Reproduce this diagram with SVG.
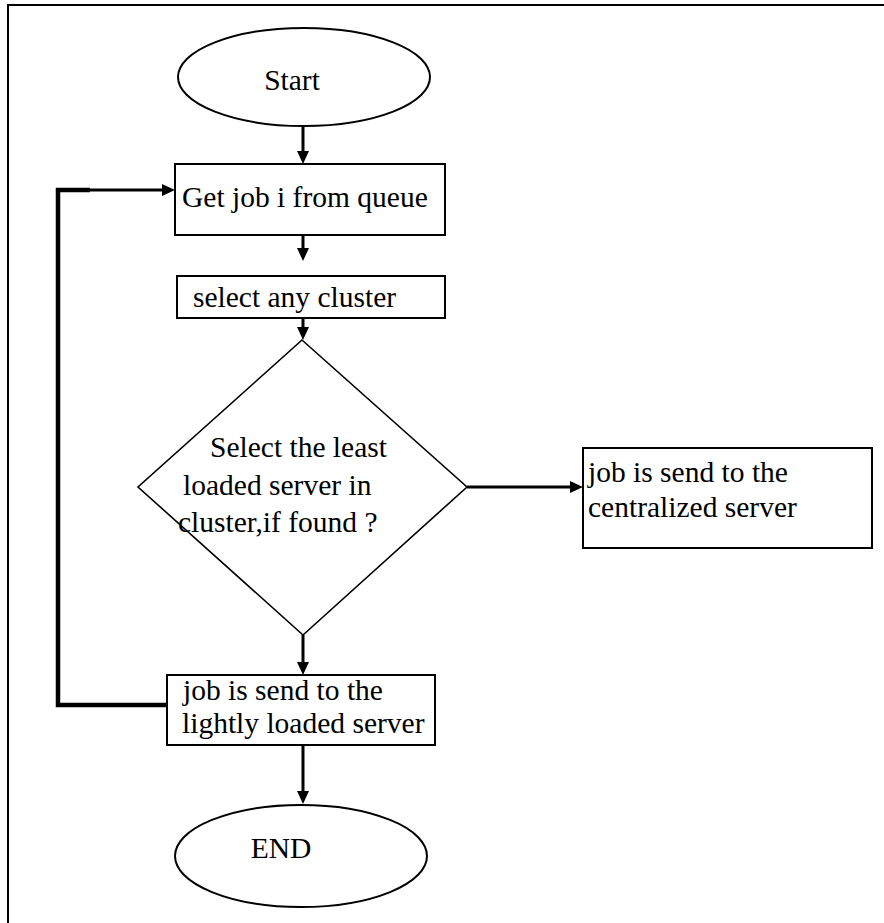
<svg xmlns="http://www.w3.org/2000/svg" width="884" height="923" viewBox="0 0 884 923">
  <style>
    .shape { fill: #ffffff; stroke: #000000; stroke-width: 2; }
    .thin { fill: #ffffff; stroke: #000000; stroke-width: 1.6; }
    .label { font-family: "Liberation Serif", "Times New Roman", serif; font-size: 29.5px; fill: #000000; }
    .conn { fill: none; stroke: #000000; stroke-width: 3; }
    .loop { fill: none; stroke: #000000; stroke-width: 4.5; stroke-linejoin: miter; }
    .frame { fill: none; stroke: #000000; stroke-width: 2; }
  </style>
  <defs>
    <marker id="arrow" markerUnits="userSpaceOnUse" markerWidth="14" markerHeight="12" refX="4" refY="6" orient="auto">
      <path d="M0,0 L13,6 L0,12 z" fill="#000000"/>
    </marker>
  </defs>

  <rect width="884" height="923" fill="#ffffff"/>

  <!-- page frame: top and left rules -->
  <g id="frame">
    <line class="frame" x1="8" y1="5" x2="884" y2="5"/>
    <line class="frame" x1="8" y1="4" x2="8" y2="923"/>
  </g>

  <!-- connectors -->
  <g id="connectors">
    <line class="conn" x1="303" y1="127" x2="303" y2="155" marker-end="url(#arrow)"/>
    <line class="conn" x1="303" y1="235" x2="303" y2="252" marker-end="url(#arrow)"/>
    <line class="conn" x1="303" y1="318" x2="303" y2="331" marker-end="url(#arrow)"/>
    <line class="conn" x1="467" y1="487" x2="574" y2="487" marker-end="url(#arrow)"/>
    <line class="conn" x1="303" y1="635" x2="303" y2="666" marker-end="url(#arrow)"/>
    <line class="conn" x1="303" y1="745" x2="303" y2="795" marker-end="url(#arrow)"/>
    <polyline class="loop" points="167,705 58,705 58,190 90,190"/>
    <line class="conn" x1="88" y1="190" x2="166" y2="190" marker-end="url(#arrow)"/>
  </g>

  <g id="start">
    <ellipse class="shape" cx="304" cy="77" rx="126" ry="49"/>
    <text class="label" x="292" y="90" text-anchor="middle">Start</text>
  </g>

  <g id="get-job">
    <rect class="shape" x="175" y="164" width="270" height="71"/>
    <text class="label" x="182" y="207">Get job i from queue</text>
  </g>

  <g id="select-cluster">
    <rect class="shape" x="177" y="276" width="268" height="42"/>
    <text class="label" x="193" y="307">select any cluster</text>
  </g>

  <g id="decision">
    <polygon class="thin" points="302,340 467,487 303,635 138,487"/>
    <text class="label" x="210" y="457">Select the least</text>
    <text class="label" x="183" y="495">loaded server in</text>
    <text class="label" x="178" y="532">cluster,if found ?</text>
  </g>

  <g id="centralized">
    <rect class="shape" x="583" y="448" width="289" height="100"/>
    <text class="label" x="588" y="482">job is send to the</text>
    <text class="label" x="588" y="517">centralized server</text>
  </g>

  <g id="lightly-loaded">
    <rect class="shape" x="167" y="675" width="268" height="70"/>
    <text class="label" x="183" y="700">job is send to the</text>
    <text class="label" x="182" y="733">lightly loaded server</text>
  </g>

  <g id="end">
    <ellipse class="shape" cx="301" cy="856" rx="126" ry="51"/>
    <text class="label" x="281" y="858" text-anchor="middle">END</text>
  </g>
</svg>
